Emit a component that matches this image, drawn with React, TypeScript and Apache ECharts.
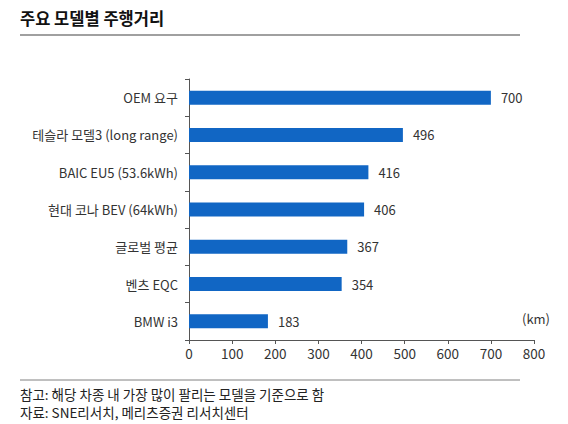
import React, { useEffect, useRef } from "react";
import * as echarts from "echarts";

const categories = [
  "OEM 요구",
  "테슬라 모델3 (long range)",
  "BAIC EU5 (53.6kWh)",
  "현대 코나 BEV (64kWh)",
  "글로벌 평균",
  "벤츠 EQC",
  "BMW i3",
];
const values = [700, 496, 416, 406, 367, 354, 183];
const xTicks = [0, 100, 200, 300, 400, 500, 600, 700, 800];

const title = "주요 모델별 주행거리";
const unitLabel = "(km)";
const notes = [
  "참고: 해당 차종 내 가장 많이 팔리는 모델을 기준으로 함",
  "자료: SNE리서치, 메리츠증권 리서치센터",
];

const FONT = "'Noto Sans CJK KR', 'Noto Sans', sans-serif";

export default function App() {
  const ref = useRef<HTMLDivElement>(null);
  useEffect(() => {
    document.body.style.margin = "0";
    if (!ref.current) return;
    const chart = echarts.init(ref.current, undefined, { renderer: "svg" });
    chart.setOption({
      animation: false,
      backgroundColor: "#ffffff",
      grid: { left: 189, right: 34, top: 79, bottom: 84, containLabel: false },
      xAxis: {
        type: "value",
        min: xTicks[0],
        max: xTicks[xTicks.length - 1],
        interval: 100,
        axisLine: { show: true, lineStyle: { color: "#555", width: 1 } },
        axisTick: { show: true, length: 4, lineStyle: { color: "#555" } },
        axisLabel: { color: "#333", fontSize: 13.5, fontFamily: FONT, margin: 6 },
        splitLine: { show: false },
      },
      yAxis: {
        type: "category",
        data: categories,
        inverse: true,
        axisLine: { show: true, lineStyle: { color: "#555", width: 1 } },
        axisTick: { show: true, length: 4, lineStyle: { color: "#555" } },
        axisLabel: { color: "#333", fontSize: 13, fontFamily: FONT, margin: 11 },
        splitLine: { show: false },
      },
      series: [
        {
          type: "bar",
          data: values,
          barWidth: 14,
          itemStyle: { color: "#1166C4" },
          label: {
            show: true,
            position: "right",
            distance: 10,
            color: "#333",
            fontSize: 13,
            fontFamily: FONT,
          },
        },
      ],
      graphic: [
        {
          type: "text",
          left: 20,
          top: 10,
          style: { text: title, fontSize: 16.5, fontWeight: "bold", fontFamily: FONT, fill: "#111" },
        },
        {
          type: "line",
          shape: { x1: 20, y1: 35, x2: 520, y2: 35 },
          style: { stroke: "#808080", lineWidth: 1.5 },
        },
        {
          type: "text",
          left: 522,
          top: 312,
          style: { text: unitLabel, fontSize: 13, fontFamily: FONT, fill: "#333" },
        },
        {
          type: "line",
          shape: { x1: 20, y1: 380, x2: 520, y2: 380 },
          style: { stroke: "#808080", lineWidth: 1 },
        },
        {
          type: "text",
          left: 20,
          top: 385,
          style: { text: notes.join("\n"), fontSize: 13.5, lineHeight: 18, fontFamily: FONT, fill: "#222" },
        },
      ],
    });
    return () => chart.dispose();
  }, []);
  return <div ref={ref} style={{ width: 568, height: 424 }} />;
}
